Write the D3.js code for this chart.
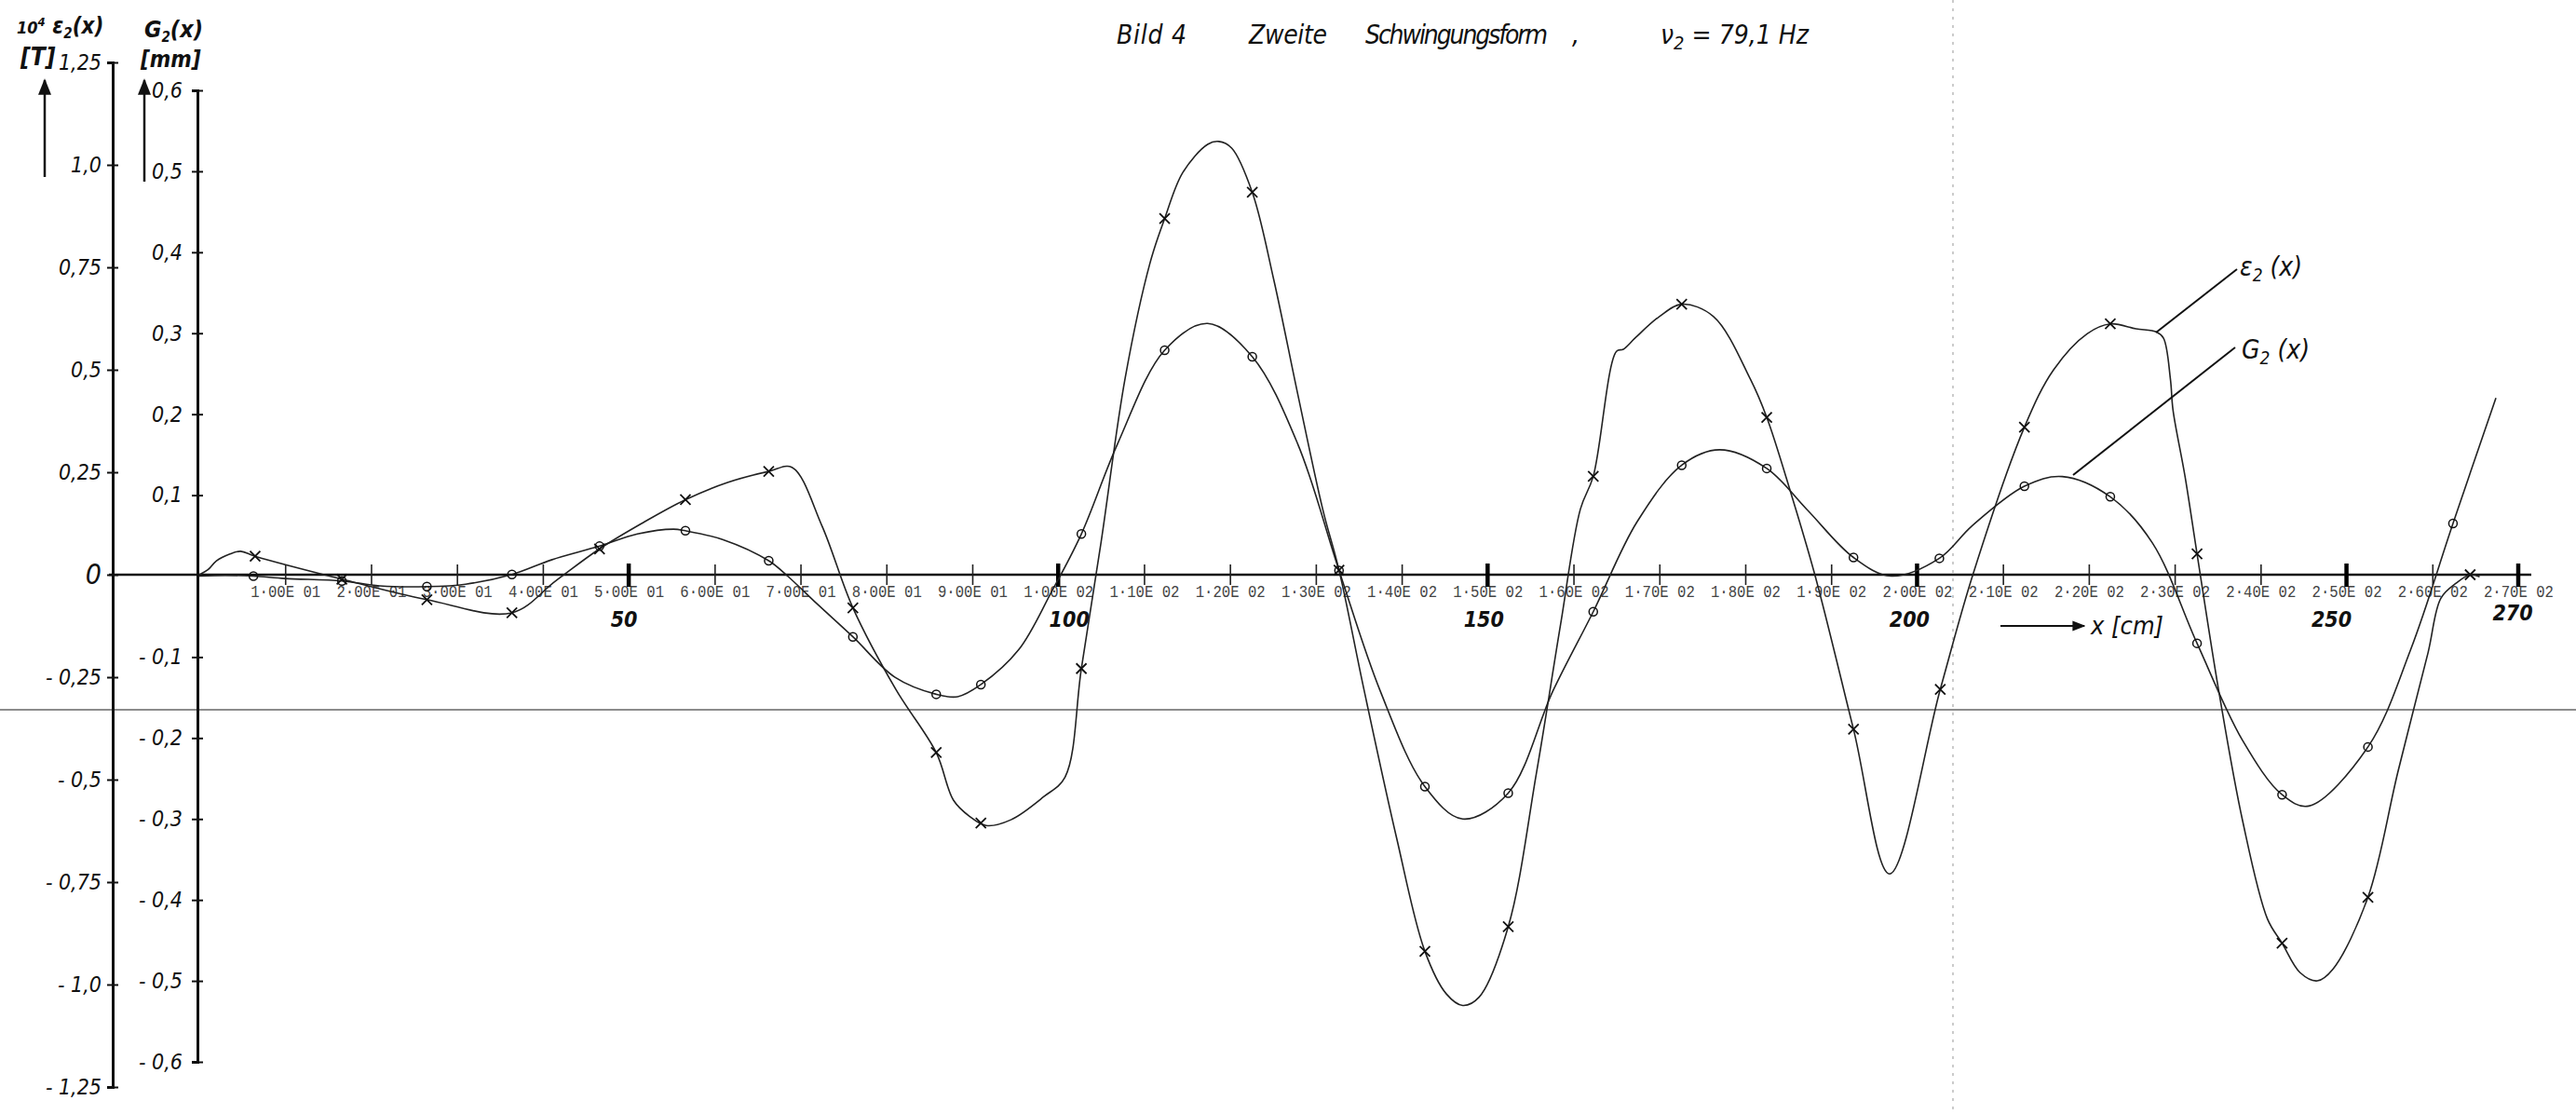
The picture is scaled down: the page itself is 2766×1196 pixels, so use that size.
<!DOCTYPE html>
<html>
<head>
<meta charset="utf-8">
<script src="https://cdn.jsdelivr.net/npm/d3@7"></script>
<style>
  body { margin: 0; background: #fff; }
  .hand { font-family: 'Liberation Sans Narrow', 'DejaVu Sans Condensed', sans-serif; font-style: italic; fill: #111; }
  .plotter { font-family: 'Liberation Mono', 'DejaVu Sans Mono', monospace; fill: #444; }
</style>
</head>
<body>
<div id="chart"></div>
<script>
// x in cm, epsilon in 10^4 * [1], G in mm
const epsMarkers = [
  [6.5, 0.045], [16.6, -0.011], [26.5, -0.061], [36.4, -0.093], [46.6, 0.063],
  [56.6, 0.183], [66.3, 0.252], [76.1, -0.081], [85.8, -0.434], [91.0, -0.606],
  [102.7, -0.229], [112.4, 0.869], [122.6, 0.933], [132.7, 0.011], [142.7, -0.919],
  [152.4, -0.859], [162.3, 0.24], [172.6, 0.66], [182.5, 0.384], [192.6, -0.377],
  [202.7, -0.28], [212.5, 0.36], [222.5, 0.612], [232.6, 0.051], [242.5, -0.899],
  [252.5, -0.787], [264.4, 0.0]
];

const gMarkers = [
  [6.3, 0.0], [16.6, -0.006], [26.5, -0.013], [36.4, 0.002], [46.6, 0.037],
  [56.6, 0.056], [66.3, 0.019], [76.1, -0.075], [85.8, -0.146], [91.0, -0.134],
  [102.7, 0.052], [112.4, 0.279], [122.6, 0.271], [132.7, 0.007], [142.7, -0.26],
  [152.4, -0.268], [162.3, -0.044], [172.6, 0.137], [182.5, 0.133], [192.6, 0.023],
  [202.6, 0.022], [212.5, 0.111], [222.5, 0.098], [232.6, -0.083], [242.5, -0.27],
  [252.5, -0.211], [262.4, 0.065]
];

// hand drawn curves, traced from the sheet
const epsCurve = [
  [0, 0], [1, 0.012], [2, 0.034], [3.5, 0.05], [4.8, 0.057], [6.5, 0.045],
  [16.6, -0.011], [26.5, -0.061], [36.4, -0.093], [41.5, -0.015], [46.6, 0.063],
  [51.5, 0.125], [56.6, 0.183], [61.5, 0.225], [66.3, 0.252], [69, 0.262],
  [72.5, 0.119], [76.1, -0.081], [81.1, -0.28], [85.8, -0.434], [87.8, -0.55],
  [89.7, -0.59], [91.6, -0.612], [94.5, -0.598], [98.3, -0.542], [100.8, -0.494],
  [102.7, -0.229], [105, 0.08], [107.8, 0.48], [110.7, 0.761], [112.4, 0.869],
  [114.5, 0.981], [117.4, 1.05], [118.7, 1.057], [120.2, 1.041], [122.6, 0.933],
  [125.1, 0.72], [127.9, 0.44], [130.8, 0.16], [132.7, 0.011], [135.6, -0.28],
  [139.4, -0.642], [142.7, -0.919], [145.2, -1.023], [147.1, -1.051], [149, -1.031],
  [152.4, -0.859], [155.7, -0.482], [158.5, -0.121], [160.8, 0.16], [162.3, 0.24],
  [165, 0.545], [165.8, 0.55], [167.2, 0.578], [170, 0.63], [172.6, 0.66],
  [176.3, 0.63], [180.6, 0.477], [182.5, 0.384], [185.3, 0.2], [188.1, 0],
  [192.6, -0.377], [196.8, -0.73], [202.7, -0.28], [206.5, 0], [212.5, 0.36],
  [215.9, 0.5], [219.8, 0.588], [222.5, 0.612], [225.5, 0.6], [227.9, 0.592],
  [228.7, 0.577], [229.5, 0.477], [229.8, 0.402], [231.2, 0.24], [232.6, 0.051],
  [235.1, -0.28], [237.9, -0.6], [240.8, -0.84], [242.5, -0.899], [244.6, -0.971],
  [246.6, -0.991], [248.4, -0.963], [252.5, -0.787], [256, -0.48], [259.5, -0.19],
  [261, -0.057], [262.8, -0.02], [264.4, 0.0], [265.5, -0.005]
];

const gCurve = [
  [0, 0], [3, 0.001], [6.3, 0], [10, -0.003], [16.6, -0.006], [21, -0.012],
  [26.5, -0.013], [31, -0.01], [36.4, 0.002], [41, 0.02], [46.6, 0.037],
  [51, 0.052], [55.2, 0.058], [56.6, 0.056], [61, 0.045], [66.3, 0.019],
  [68.5, 0], [72, -0.035], [76.1, -0.075], [81, -0.125], [85.8, -0.146],
  [88.3, -0.149], [91, -0.134], [95.4, -0.091], [99.2, -0.02], [102.7, 0.052],
  [106.9, 0.163], [112.4, 0.279], [117.4, 0.312], [122.6, 0.271], [127.9, 0.163],
  [132.7, 0.007], [137.5, -0.142], [142.7, -0.26], [147.1, -0.3], [152.4, -0.268],
  [157.6, -0.142], [162.3, -0.044], [167.4, 0.067], [172.6, 0.137], [177, 0.156],
  [182.5, 0.133], [187.2, 0.082], [192.6, 0.023], [197, 0], [202.6, 0.022],
  [206.4, 0.062], [212.5, 0.111], [216.9, 0.123], [222.5, 0.098], [227.4, 0.041],
  [232.6, -0.083], [237.9, -0.203], [242.5, -0.27], [245.6, -0.284], [252.5, -0.211],
  [257.5, -0.09], [262.4, 0.065], [267.4, 0.22]
];

const xTickValues = [10, 20, 30, 40, 50, 60, 70, 80, 90, 100, 110, 120, 130, 140, 150,
  160, 170, 180, 190, 200, 210, 220, 230, 240, 250, 260, 270];
const xTickLabels = ['1·00E 01', '2·00E 01', '3·00E 01', '4·00E 01', '5·00E 01', '6·00E 01',
  '7·00E 01', '8·00E 01', '9·00E 01', '1·00E 02', '1·10E 02', '1·20E 02', '1·30E 02',
  '1·40E 02', '1·50E 02', '1·60E 02', '1·70E 02', '1·80E 02', '1·90E 02', '2·00E 02',
  '2·10E 02', '2·20E 02', '2·30E 02', '2·40E 02', '2·50E 02', '2·60E 02', '2·70E 02'];
const handMarks = [50, 100, 150, 200, 250, 270];
const handNudge = [-5, 12, -4, -8, -16, -6]; // px, where the pen put the numbers

const epsTicks = [1.25, 1.0, 0.75, 0.5, 0.25, 0, -0.25, -0.5, -0.75, -1.0, -1.25];
const epsTickLabels = ['1,25', '1,0', '0,75', '0,5', '0,25', '0', '- 0,25', '- 0,5', '- 0,75', '- 1,0', '- 1,25'];
const gTicks = [0.6, 0.5, 0.4, 0.3, 0.2, 0.1, -0.1, -0.2, -0.3, -0.4, -0.5, -0.6];
const gTickLabels = ['0,6', '0,5', '0,4', '0,3', '0,2', '0,1', '- 0,1', '- 0,2', '- 0,3', '- 0,4', '- 0,5', '- 0,6'];

const width = 2766, height = 1196;
const epsAxisX = 121, gAxisX = 212, zeroY = 617;

const x = d3.scaleLinear().domain([0, 270]).range([214, 2704]);
const yE = d3.scaleLinear().domain([-1.25, 1.25]).range([1167, 67]);
const yG = d3.scaleLinear().domain([-0.6, 0.6]).range([1140, 97]);

const svg = d3.select('#chart')
  .append('svg')
  .attr('width', width)
  .attr('height', height);

svg.append('rect').attr('width', width).attr('height', height).attr('fill', '#fff');

// scan artefacts: fold line and faint dotted line
svg.append('line')
  .attr('x1', 0).attr('x2', width).attr('y1', 762).attr('y2', 762)
  .attr('stroke', '#666').attr('stroke-width', 1.5);
svg.append('line')
  .attr('x1', 2097).attr('x2', 2097).attr('y1', 0).attr('y2', height)
  .attr('stroke', '#bbb').attr('stroke-width', 1.5).attr('stroke-dasharray', '3,6');

// title
const title = svg.append('g').attr('class', 'hand').style('font-size', '28px');
title.append('text').attr('x', 1199).attr('y', 47).attr('textLength', 75).text('Bild 4');
title.append('text').attr('x', 1341).attr('y', 47).attr('textLength', 84).text('Zweite');
title.append('text').attr('x', 1466).attr('y', 47).attr('textLength', 196).text('Schwingungsform');
title.append('text').attr('x', 1688).attr('y', 47).text(',');
const nu = title.append('text').attr('x', 1783).attr('y', 47);
nu.append('tspan').text('ν');
nu.append('tspan').attr('dy', 6).style('font-size', '20px').text('2');
nu.append('tspan').attr('dy', -6).text(' = 79,1 Hz');

// horizontal zero axis
svg.append('line')
  .attr('x1', epsAxisX - 4).attr('x2', 2718)
  .attr('y1', zeroY).attr('y2', zeroY)
  .attr('stroke', '#111').attr('stroke-width', 2.5);

const xAxis = d3.axisBottom(x)
  .tickValues(xTickValues)
  .tickSize(11)
  .tickFormat((d, i) => xTickLabels[i]);

const gx = svg.append('g')
  .attr('transform', `translate(0,${zeroY})`)
  .call(xAxis);
gx.select('.domain').remove();
gx.selectAll('.tick line')
  .attr('y1', -11)
  .attr('stroke', '#222')
  .attr('stroke-width', 1.6);
gx.selectAll('.tick text')
  .attr('class', 'plotter')
  .attr('y', 9)
  .attr('dy', '0.8em')
  .attr('textLength', 75)
  .attr('lengthAdjust', 'spacingAndGlyphs')
  .style('font-size', '19px')
  .attr('fill', '#444');

// bold hand marks on the x axis
svg.selectAll('.hand-tick')
  .data(handMarks)
  .join('line')
  .attr('class', 'hand-tick')
  .attr('x1', d => x(d)).attr('x2', d => x(d))
  .attr('y1', zeroY - 12).attr('y2', zeroY + 13)
  .attr('stroke', '#000').attr('stroke-width', 4.5);

svg.selectAll('.hand-label')
  .data(handMarks)
  .join('text')
  .attr('class', 'hand')
  .attr('x', (d, i) => x(d) + handNudge[i])
  .attr('y', d => d === 270 ? 666 : 673)
  .attr('text-anchor', 'middle')
  .style('font-size', '23px')
  .style('font-weight', 'bold')
  .text(d => d);

// x unit arrow
svg.append('defs').append('marker')
  .attr('id', 'arrow')
  .attr('viewBox', '0 0 10 10')
  .attr('refX', 9).attr('refY', 5)
  .attr('markerWidth', 7).attr('markerHeight', 7)
  .attr('orient', 'auto')
  .append('path').attr('d', 'M0,1 L10,5 L0,9 Z').attr('fill', '#111');

svg.append('line')
  .attr('x1', 2148).attr('x2', 2238).attr('y1', 672).attr('y2', 672)
  .attr('stroke', '#111').attr('stroke-width', 2)
  .attr('marker-end', 'url(#arrow)');
svg.append('text').attr('class', 'hand')
  .attr('x', 2245).attr('y', 681)
  .style('font-size', '27px')
  .text('x [cm]');

// epsilon axis
const epsAxis = d3.axisLeft(yE)
  .tickValues(epsTicks)
  .tickSize(6)
  .tickFormat((d, i) => epsTickLabels[i]);
const ge = svg.append('g')
  .attr('transform', `translate(${epsAxisX},0)`)
  .call(epsAxis);
ge.select('.domain').attr('stroke', '#111').attr('stroke-width', 3);
ge.selectAll('.tick line').attr('x1', 6).attr('stroke', '#111').attr('stroke-width', 2);
ge.selectAll('.tick text')
  .attr('class', 'hand')
  .attr('x', -12)
  .style('font-size', d => d === 0 ? '30px' : '23px')
  .attr('fill', '#111');

// G axis
const gAxis = d3.axisLeft(yG)
  .tickValues(gTicks)
  .tickSize(6)
  .tickFormat((d, i) => gTickLabels[i]);
const gg = svg.append('g')
  .attr('transform', `translate(${gAxisX},0)`)
  .call(gAxis);
gg.select('.domain').attr('stroke', '#111').attr('stroke-width', 3);
gg.selectAll('.tick line').attr('x1', 6).attr('stroke', '#111').attr('stroke-width', 2);
gg.selectAll('.tick text')
  .attr('class', 'hand')
  .attr('x', -16)
  .style('font-size', '23px')
  .attr('fill', '#111');

// axis titles with up arrows
const epsTitle = svg.append('text').attr('class', 'hand').attr('x', 18).attr('y', 36)
  .style('font-size', '24px').style('font-weight', 'bold');
epsTitle.append('tspan').style('font-size', '18px').text('10');
epsTitle.append('tspan').attr('dy', -8).style('font-size', '13px').text('4');
epsTitle.append('tspan').attr('dy', 8).text(' ε');
epsTitle.append('tspan').attr('dy', 5).style('font-size', '15px').text('2');
epsTitle.append('tspan').attr('dy', -5).text('(x)');
svg.append('text').attr('class', 'hand').attr('x', 22).attr('y', 70)
  .style('font-size', '26px').style('font-weight', 'bold').text('[T]');

const gTitle = svg.append('text').attr('class', 'hand').attr('x', 155).attr('y', 40)
  .style('font-size', '25px').style('font-weight', 'bold');
gTitle.append('tspan').text('G');
gTitle.append('tspan').attr('dy', 5).style('font-size', '15px').text('2');
gTitle.append('tspan').attr('dy', -5).text('(x)');
svg.append('text').attr('class', 'hand').attr('x', 151).attr('y', 72)
  .style('font-size', '24px').style('font-weight', 'bold').text('[mm]');

[[48, 190, 86], [155, 195, 86]].forEach(([ax, y1, y2]) => {
  svg.append('line')
    .attr('x1', ax).attr('x2', ax).attr('y1', y1).attr('y2', y2)
    .attr('stroke', '#111').attr('stroke-width', 2.5)
    .attr('marker-end', 'url(#arrow)');
});

// curves
const lineE = d3.line()
  .x(d => x(d[0]))
  .y(d => yE(d[1]))
  .curve(d3.curveCatmullRom.alpha(0.5));
const lineG = d3.line()
  .x(d => x(d[0]))
  .y(d => yG(d[1]))
  .curve(d3.curveCatmullRom.alpha(0.5));

svg.append('path')
  .datum(epsCurve)
  .attr('d', lineE)
  .attr('fill', 'none')
  .attr('stroke', '#222')
  .attr('stroke-width', 1.6);

svg.append('path')
  .datum(gCurve)
  .attr('d', lineG)
  .attr('fill', 'none')
  .attr('stroke', '#222')
  .attr('stroke-width', 1.6);

// markers
const cross = 5.5;
svg.selectAll('.eps-mark')
  .data(epsMarkers)
  .join('path')
  .attr('class', 'eps-mark')
  .attr('d', d => {
    const cx = x(d[0]), cy = yE(d[1]);
    return `M${cx - cross},${cy - cross}L${cx + cross},${cy + cross}M${cx - cross},${cy + cross}L${cx + cross},${cy - cross}`;
  })
  .attr('stroke', '#111')
  .attr('stroke-width', 1.8)
  .attr('fill', 'none');

svg.selectAll('.g-mark')
  .data(gMarkers)
  .join('circle')
  .attr('class', 'g-mark')
  .attr('cx', d => x(d[0]))
  .attr('cy', d => yG(d[1]))
  .attr('r', 4.5)
  .attr('fill', 'none')
  .attr('stroke', '#111')
  .attr('stroke-width', 1.5);

// curve labels with leader lines
svg.append('line')
  .attr('x1', 2315).attr('y1', 357).attr('x2', 2402).attr('y2', 289)
  .attr('stroke', '#111').attr('stroke-width', 2);
svg.append('line')
  .attr('x1', 2226).attr('y1', 510).attr('x2', 2400).attr('y2', 373)
  .attr('stroke', '#111').attr('stroke-width', 2);

const lblE = svg.append('text').attr('class', 'hand').attr('x', 2405).attr('y', 296).style('font-size', '28px');
lblE.append('tspan').text('ε');
lblE.append('tspan').attr('dy', 6).style('font-size', '19px').text('2');
lblE.append('tspan').attr('dy', -6).text(' (x)');

const lblG = svg.append('text').attr('class', 'hand').attr('x', 2407).attr('y', 385).style('font-size', '28px');
lblG.append('tspan').text('G');
lblG.append('tspan').attr('dy', 6).style('font-size', '19px').text('2');
lblG.append('tspan').attr('dy', -6).text(' (x)');
</script>
</body>
</html>
